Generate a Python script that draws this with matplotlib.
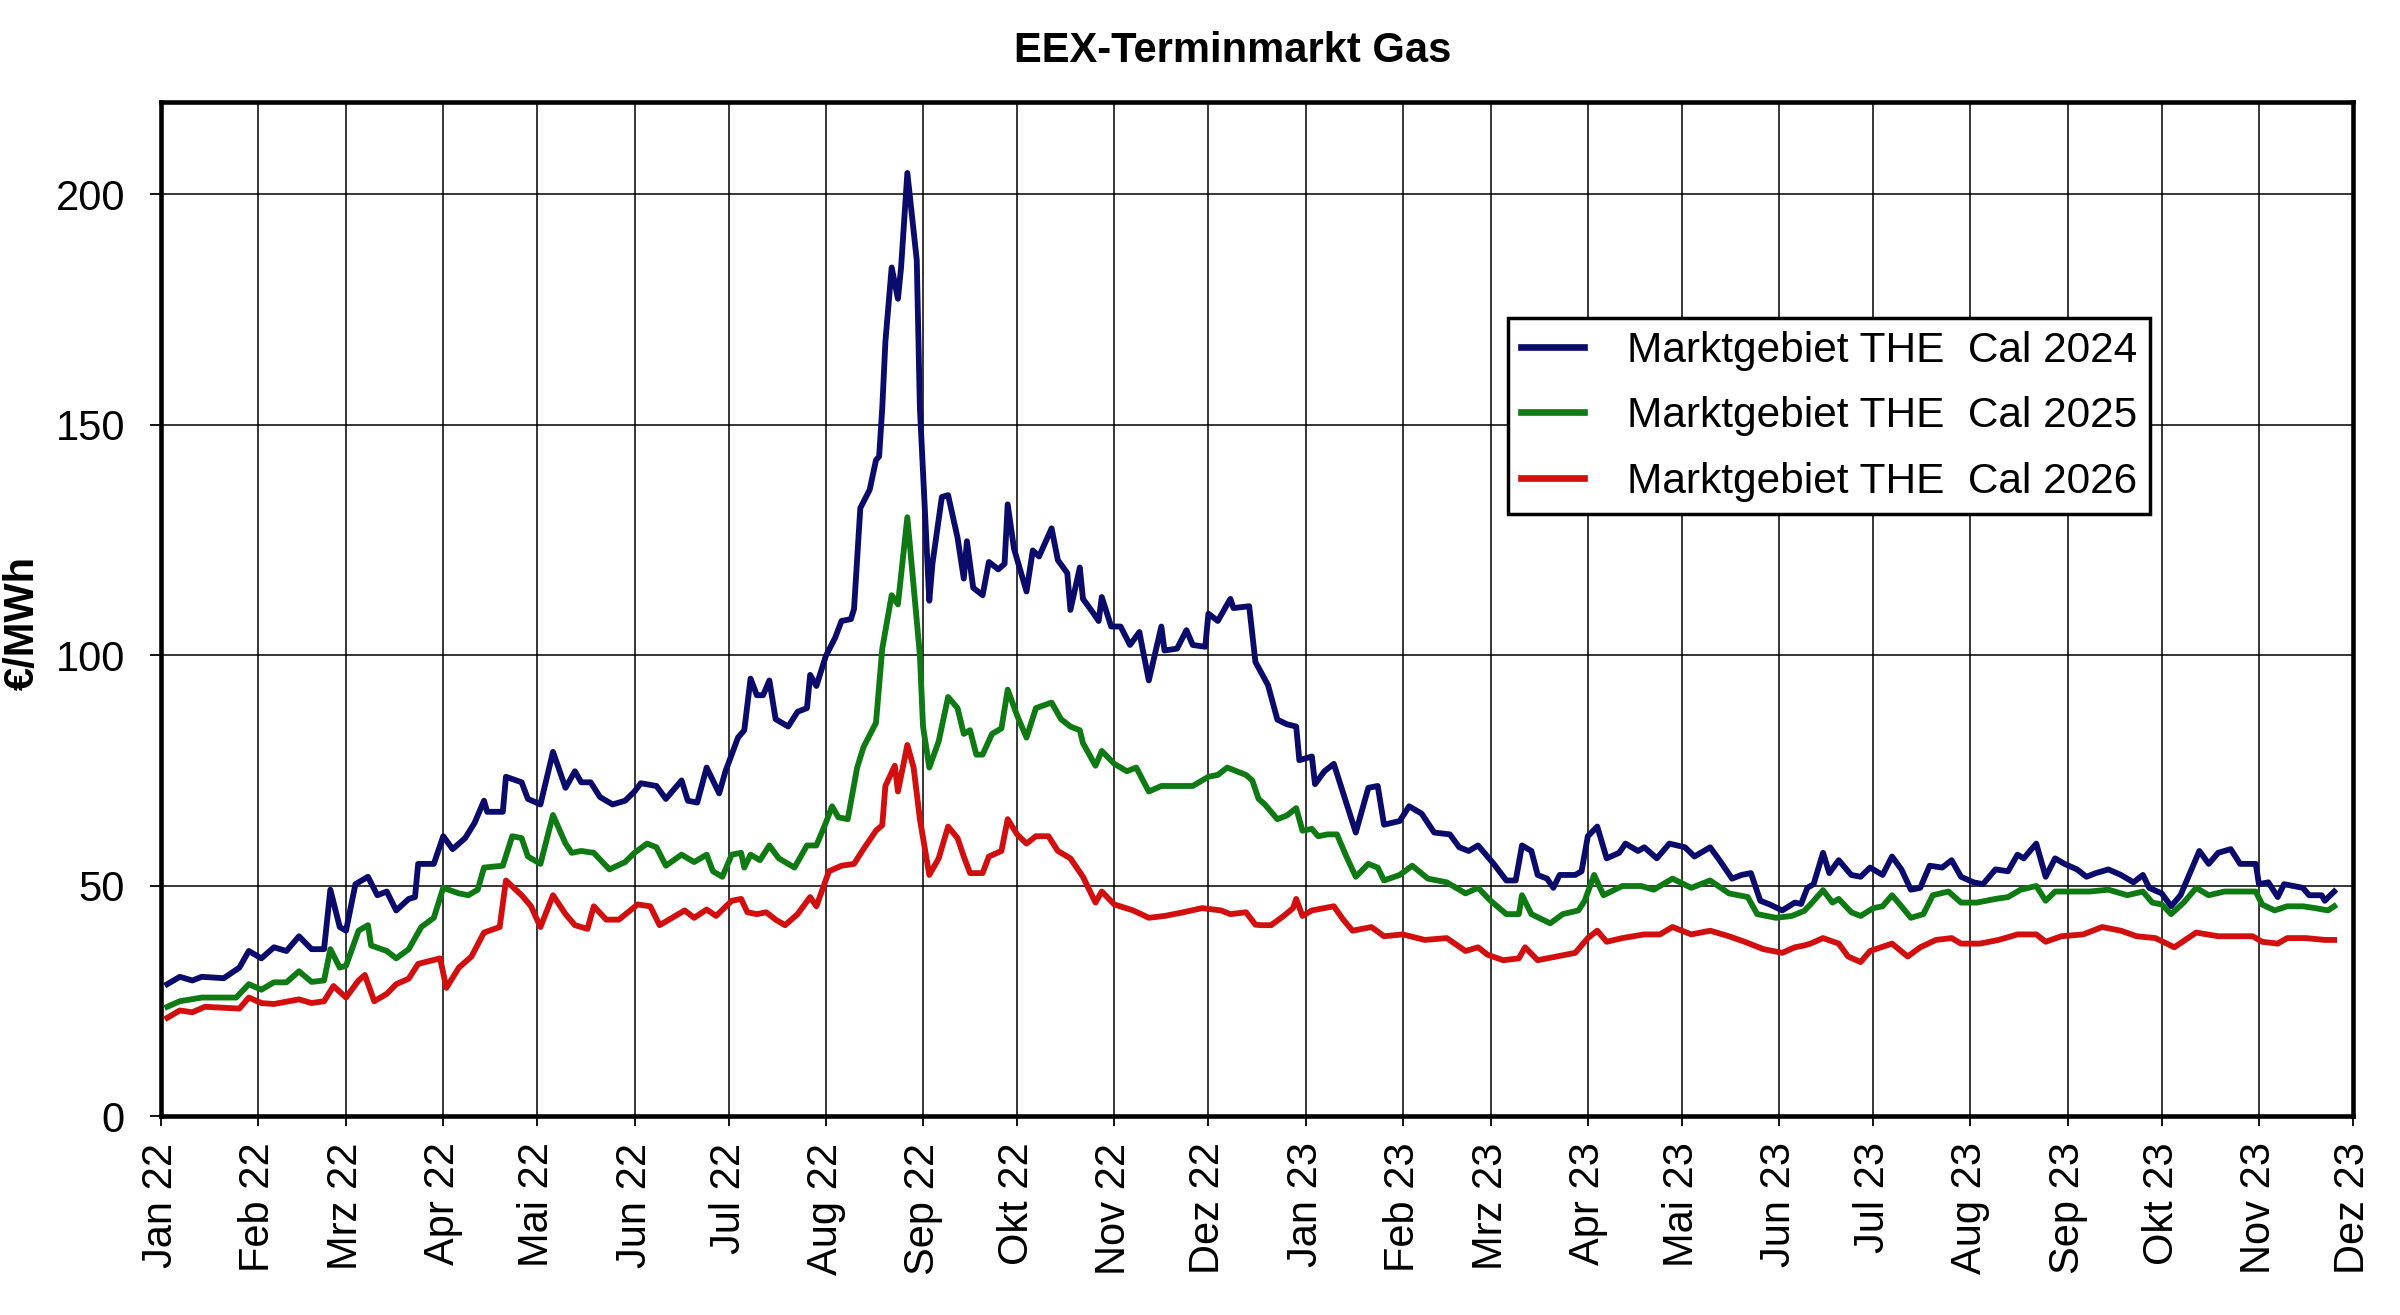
import numpy as np
import matplotlib
matplotlib.use("Agg")
import matplotlib.pyplot as plt

plt.rcParams['font.family'] = ['Liberation Sans', 'DejaVu Sans']

# ---------------- data (days since 2022-01-01, €/MWh) ----------------
cal24_days = [2, 6, 10, 13, 20, 25, 28, 32, 36, 40, 44, 48, 52, 54, 57, 59, 62, 66, 69, 72,
              75, 79, 81, 82, 87, 90, 93, 97, 100, 103, 104, 109, 110, 115, 117, 121, 125, 129, 132, 134,
              137, 140, 144, 148, 151, 153, 158, 161, 166, 168, 171, 174, 178, 180, 184, 186, 188, 190, 192, 194,
              196, 200, 203, 206, 207, 209, 212, 215, 217, 220, 221, 223, 226, 228, 229, 230, 231, 233, 235, 236,
              238, 241, 242, 244, 245, 246, 249, 251, 254, 256, 257, 259, 262, 264, 267, 269, 270, 272, 276, 278,
              280, 284, 286, 289, 290, 293, 294, 297, 299, 300, 303, 306, 309, 312, 313, 315, 319, 320, 324, 327,
              329, 333, 334, 337, 341, 342, 347, 349, 353, 356, 359, 362, 363, 367, 368, 371, 374, 377, 381, 385,
              388, 390, 395, 398, 402, 406, 411, 414, 417, 420, 425, 429, 432, 434, 437, 439, 442, 444, 446, 451,
              453, 455, 458, 461, 465, 467, 471, 473, 477, 481, 486, 489, 494, 497, 501, 504, 507, 510, 513, 517,
              521, 523, 525, 527, 530, 532, 535, 539, 542, 545, 549, 552, 555, 558, 561, 564, 568, 571, 574, 578,
              581, 585, 589, 592, 594, 598, 601, 604, 607, 611, 614, 617, 621, 625, 629, 632, 634, 638, 641, 644,
              647, 650, 653, 656, 660, 663, 668, 669, 672, 675, 677, 680, 683, 685, 689, 690, 693]
cal24_vals = [28.6, 30.2, 29.4, 30.2, 29.9, 32.2, 35.8, 34.2, 36.6, 35.8, 39.0, 36.2, 36.2, 49.1, 41.0, 40.2, 50.3, 51.9, 47.9, 48.7,
              44.6, 47.1, 47.5, 54.7, 54.7, 60.7, 57.9, 60.3, 63.6, 68.4, 66.0, 66.0, 73.6, 72.4, 68.8, 67.6, 79.0, 71.2, 74.8, 72.4,
              72.4, 69.2, 67.6, 68.4, 70.4, 72.2, 71.6, 68.8, 72.8, 68.4, 68.0, 75.6, 70.0, 74.8, 82.1, 83.7, 94.9, 91.3, 91.3, 94.5,
              86.1, 84.5, 87.7, 88.5, 95.7, 93.3, 99.8, 103.8, 107.4, 107.8, 110.0, 131.9, 135.9, 142.3, 143.1, 153.6, 168.0, 184.1, 177.3, 184.1,
              204.6, 185.7, 153.6, 125.5, 111.8, 119.8, 134.3, 134.7, 125.5, 116.6, 124.7, 114.6, 113.0, 120.2, 118.6, 119.8, 132.7, 123.1, 113.8, 122.7,
              121.4, 127.5, 120.6, 117.8, 109.8, 119.0, 112.2, 109.4, 107.4, 112.6, 106.2, 106.2, 102.2, 105.0, 101.4, 94.5, 106.2, 101.0, 101.4, 105.4,
              102.2, 101.8, 109.0, 107.4, 112.2, 110.2, 110.6, 98.5, 93.5, 86.0, 85.0, 84.5, 77.2, 78.0, 72.0, 74.8, 76.4, 70.0, 61.5, 71.2,
              71.6, 63.2, 64.0, 67.2, 65.6, 61.5, 61.1, 58.3, 57.5, 58.7, 54.7, 51.1, 51.1, 58.7, 57.5, 52.3, 51.5, 49.5, 52.3, 52.3,
              53.1, 60.7, 62.8, 55.9, 57.1, 59.1, 57.5, 58.3, 55.9, 59.1, 58.3, 56.3, 58.3, 55.5, 51.5, 52.3, 52.7, 46.7, 45.9, 44.6,
              46.3, 46.0, 49.5, 50.3, 57.1, 52.7, 55.5, 52.3, 51.9, 53.9, 52.3, 56.3, 53.5, 49.1, 49.5, 54.3, 53.9, 55.5, 51.9, 50.7,
              50.3, 53.5, 53.1, 56.7, 55.9, 59.1, 51.9, 55.9, 54.7, 53.5, 51.9, 52.7, 53.5, 52.3, 50.7, 52.3, 49.5, 48.3, 45.5, 47.9,
              52.7, 57.5, 54.7, 57.1, 57.9, 54.7, 54.7, 50.3, 50.7, 47.5, 50.3, 49.9, 49.5, 47.9, 47.9, 46.7, 48.7]

cal25_days = [2, 6, 13, 20, 24, 28, 32, 36, 40, 44, 48, 52, 54, 57, 59, 63, 66, 67, 72, 75,
              79, 83, 87, 90, 95, 98, 101, 103, 109, 112, 115, 117, 121, 125, 129, 131, 134, 138, 143, 148,
              151, 155, 158, 161, 166, 170, 174, 176, 179, 182, 185, 186, 188, 191, 194, 197, 202, 206, 209, 212,
              214, 216, 219, 222, 224, 228, 230, 233, 235, 238, 242, 243, 245, 248, 251, 254, 256, 258, 260, 262,
              265, 268, 270, 273, 276, 279, 284, 287, 290, 293, 294, 298, 300, 304, 308, 311, 315, 319, 324, 329,
              334, 337, 340, 346, 348, 350, 352, 356, 359, 362, 364, 367, 369, 372, 375, 378, 381, 385, 388, 390,
              395, 399, 404, 410, 416, 420, 424, 429, 433, 434, 437, 443, 447, 452, 454, 457, 460, 466, 472, 476,
              482, 488, 494, 500, 506, 509, 515, 520, 524, 526, 530, 533, 535, 539, 542, 546, 549, 552, 555, 558,
              562, 565, 570, 574, 579, 585, 589, 593, 598, 601, 604, 610, 615, 621, 627, 632, 635, 638, 641, 645,
              649, 653, 658, 663, 668, 670, 674, 678, 683, 687, 691, 693]
cal25_vals = [23.7, 24.9, 25.7, 25.7, 25.7, 28.6, 27.4, 29.0, 29.0, 31.4, 29.1, 29.4, 36.2, 32.2, 32.6, 40.2, 41.4, 37.0, 35.8, 34.2,
              36.2, 41.0, 43.0, 49.5, 48.3, 47.9, 49.1, 53.9, 54.3, 60.7, 60.3, 56.3, 54.7, 65.3, 59.1, 57.1, 57.5, 57.1, 53.5, 55.1,
              57.1, 59.1, 58.3, 54.3, 56.7, 55.1, 56.7, 53.1, 51.9, 56.7, 57.1, 53.9, 56.7, 55.5, 58.7, 55.9, 53.9, 58.7, 58.7, 63.6,
              67.2, 64.8, 64.4, 75.6, 80.0, 85.3, 101.4, 113.0, 111.0, 129.9, 100.0, 84.5, 75.6, 81.3, 90.9, 88.5, 82.9, 83.7, 78.4, 78.4,
              82.9, 84.1, 92.5, 86.9, 82.1, 88.5, 89.7, 86.1, 84.5, 83.7, 80.9, 76.0, 79.2, 76.4, 74.8, 75.6, 70.4, 71.6, 71.6, 71.6,
              73.6, 74.0, 75.6, 74.0, 72.8, 68.8, 67.6, 64.4, 65.2, 66.8, 61.9, 62.3, 60.7, 61.1, 61.1, 56.3, 51.9, 54.7, 53.9, 51.1,
              52.3, 54.3, 51.5, 50.7, 48.3, 49.5, 46.7, 43.8, 43.8, 47.9, 43.8, 41.8, 43.8, 44.6, 46.7, 52.3, 47.9, 49.9, 49.9, 49.1,
              51.5, 49.5, 51.1, 48.3, 47.5, 43.8, 43.0, 43.4, 44.5, 45.9, 49.0, 46.3, 47.1, 44.2, 43.4, 45.1, 45.5, 47.9, 45.5, 43.0,
              43.8, 47.9, 48.7, 46.3, 46.3, 47.1, 47.5, 49.1, 49.9, 46.7, 48.7, 48.7, 48.7, 49.1, 47.9, 48.7, 46.3, 45.9, 43.8, 46.3,
              49.5, 47.9, 48.7, 48.7, 48.7, 45.9, 44.6, 45.5, 45.5, 45.1, 44.6, 45.5]

cal26_days = [2, 6, 10, 14, 25, 28, 32, 36, 44, 48, 52, 55, 59, 63, 65, 68, 72, 75, 79, 82,
              89, 91, 95, 99, 103, 108, 110, 115, 118, 121, 125, 129, 132, 136, 138, 142, 146, 152, 156, 159,
              164, 167, 170, 174, 177, 182, 185, 187, 190, 193, 196, 199, 203, 207, 209, 213, 217, 221, 224, 228,
              230, 231, 234, 235, 238, 240, 242, 245, 248, 251, 254, 256, 258, 262, 264, 268, 270, 273, 276, 279,
              283, 286, 290, 294, 298, 300, 304, 310, 315, 320, 326, 332, 338, 341, 346, 349, 351, 354, 358, 361,
              362, 364, 367, 374, 377, 380, 386, 390, 396, 403, 410, 416, 420, 423, 428, 433, 435, 439, 445, 451,
              455, 458, 461, 466, 473, 478, 482, 488, 494, 500, 505, 511, 517, 521, 524, 526, 530, 535, 538, 542,
              545, 552, 557, 561, 566, 571, 574, 580, 586, 592, 598, 601, 606, 613, 619, 625, 630, 636, 642, 649,
              656, 663, 667, 670, 675, 678, 684, 690, 693]
cal26_vals = [21.3, 22.9, 22.5, 23.7, 23.3, 25.7, 24.5, 24.3, 25.3, 24.5, 24.9, 28.2, 25.7, 29.4, 30.6, 24.9, 26.5, 28.6, 29.8, 33.0,
              34.2, 27.8, 32.2, 34.6, 39.8, 41.0, 51.1, 47.9, 45.5, 41.0, 47.9, 43.8, 41.4, 40.6, 45.5, 42.6, 42.6, 45.9, 45.5, 41.4,
              43.4, 44.6, 43.0, 44.8, 43.4, 46.7, 47.1, 44.2, 43.8, 44.2, 42.6, 41.4, 43.8, 47.5, 45.5, 53.1, 54.3, 54.7, 57.9, 61.9,
              63.1, 71.6, 76.0, 70.4, 80.5, 75.6, 64.4, 52.3, 55.9, 62.8, 60.3, 56.3, 52.7, 52.7, 56.3, 57.5, 64.4, 61.1, 59.1, 60.7,
              60.7, 57.5, 55.9, 51.9, 46.3, 48.7, 45.9, 44.6, 43.0, 43.4, 44.2, 45.1, 44.6, 43.8, 44.2, 41.5, 41.4, 41.4, 43.4, 45.1,
              47.1, 43.4, 44.6, 45.5, 42.6, 40.2, 41.0, 39.0, 39.4, 38.2, 38.6, 35.8, 36.6, 35.0, 33.8, 34.2, 36.6, 33.8, 34.6, 35.4,
              38.6, 40.2, 37.8, 38.6, 39.4, 39.4, 41.0, 39.4, 40.2, 39.0, 37.8, 36.2, 35.4, 36.6, 37.0, 37.4, 38.6, 37.4, 34.6, 33.4,
              35.8, 37.4, 34.6, 36.6, 38.2, 38.6, 37.4, 37.4, 38.2, 39.4, 39.4, 37.8, 39.0, 39.4, 41.0, 40.2, 39.0, 38.6, 36.6, 39.8,
              39.0, 39.0, 39.0, 37.8, 37.4, 38.6, 38.6, 38.2, 38.2]

series_labels = ["Marktgebiet THE  Cal 2024", "Marktgebiet THE  Cal 2025", "Marktgebiet THE  Cal 2026"]
series_colors = ["#0b0b6b", "#0f7a14", "#d10f0f"]

month_labels = ["Jan 22", "Feb 22", "Mrz 22", "Apr 22", "Mai 22", "Jun 22", "Jul 22", "Aug 22",
                "Sep 22", "Okt 22", "Nov 22", "Dez 22", "Jan 23", "Feb 23", "Mrz 23", "Apr 23",
                "Mai 23", "Jun 23", "Jul 23", "Aug 23", "Sep 23", "Okt 23", "Nov 23", "Dez 23"]
y_ticks = [0, 50, 100, 150, 200]

title = "EEX-Terminmarkt Gas"
ylabel = "€/MWh"

# ---------------- figure ----------------
W, H = 2400, 1315
fig = plt.figure(figsize=(W / 100, H / 100), dpi=100)
fig.patch.set_facecolor("white")
L, R, T, B = 161, 2353, 102, 1116
ax = fig.add_axes([L / W, 1 - B / H, (R - L) / W, (B - T) / H])

base = np.datetime64("2022-01-01")
for d, v, lab, col in zip([cal24_days, cal25_days, cal26_days],
                          [cal24_vals, cal25_vals, cal26_vals],
                          series_labels, series_colors):
    x = base + np.array(d).astype("timedelta64[D]")
    ax.plot(x, v, color=col, lw=4.2, label=lab, solid_joinstyle="round", zorder=3)

month_pos = np.arange("2022-01", "2024-01", dtype="datetime64[M]").astype("datetime64[D]")
ax.set_xlim(month_pos[0], month_pos[-1])
ax.set_ylim(0, 220)
ax.set_xticks(month_pos)
ax.set_xticklabels(month_labels, rotation=90, fontsize=30)
ax.set_yticks(y_ticks)
ax.set_yticklabels([str(t) for t in y_ticks], fontsize=30)
ax.tick_params(axis="x", direction="out", length=7, width=1.3, pad=12, colors="black")
ax.tick_params(axis="y", direction="out", length=8, width=1.3, pad=18, colors="black")

ax.grid(True, color="black", lw=1.1, zorder=1)
ax.set_axisbelow(True)
for s in ax.spines.values():
    s.set_linewidth(3.3)
    s.set_color("black")

leg = ax.legend(loc="upper left", bbox_to_anchor=((1508 - L) / (R - L), (B - 318) / (B - T)),
                fontsize=30.5, frameon=True, fancybox=False, shadow=False, framealpha=1,
                edgecolor="black", borderpad=0.3, handlelength=1.5, handletextpad=1.0,
                labelspacing=0.6, borderaxespad=0)
leg.get_frame().set_linewidth(2.5)
for h in leg.get_lines():
    h.set_linewidth(4.8)

fig.text(1233 / W, 1 - 51 / H, title, ha="center", va="center", fontsize=30, fontweight="bold")
fig.text(23 / W, 1 - 623 / H, ylabel, ha="center", va="center", rotation=90,
         fontsize=30, fontweight="bold")

fig.savefig("out.png", dpi=100, facecolor="white")
